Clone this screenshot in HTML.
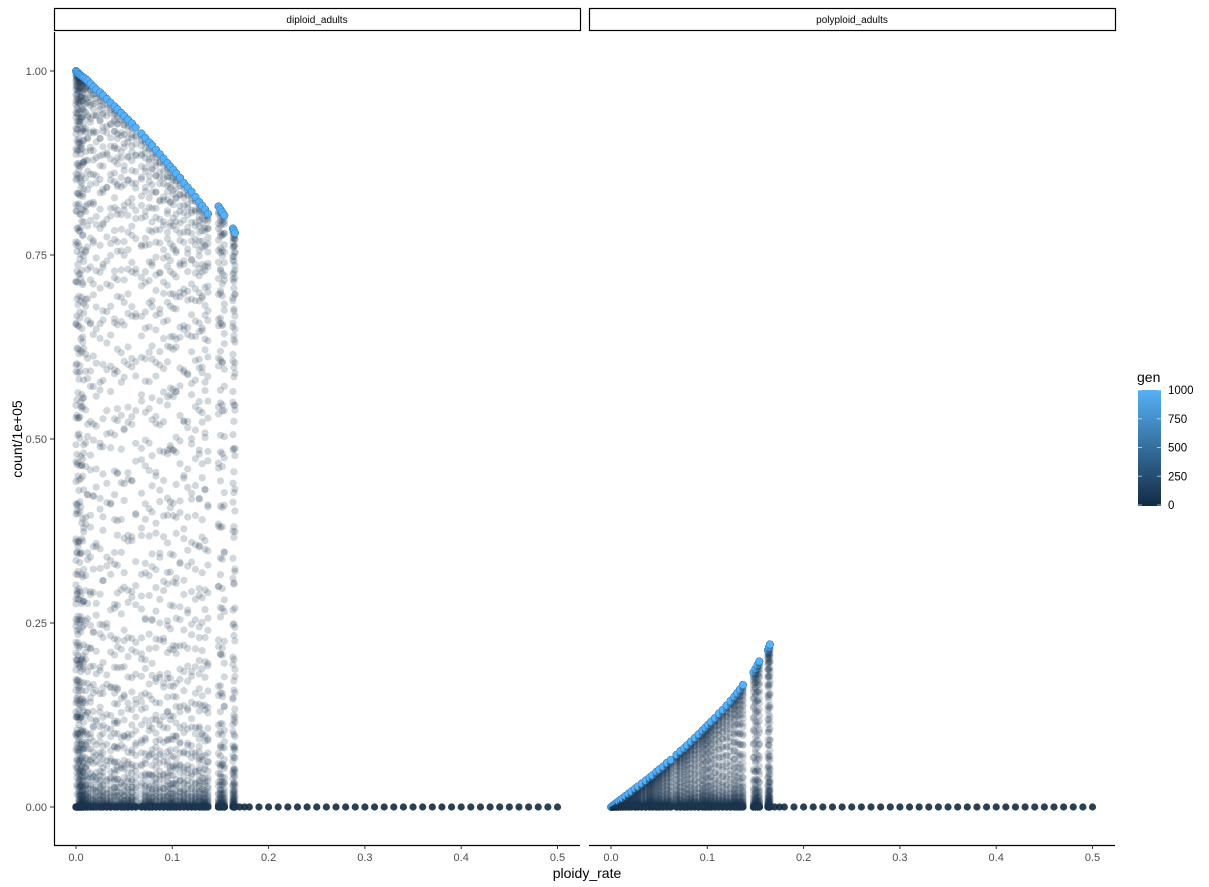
<!DOCTYPE html>
<html><head><meta charset="utf-8"><style>
html,body{margin:0;padding:0;background:#fff;}
svg{display:block;font-family:"Liberation Sans",sans-serif;}
</style></head><body>
<svg id="chart" width="1209" height="887" viewBox="0 0 1209 887">
<defs><linearGradient id="gg" x1="0" y1="1" x2="0" y2="0"><stop offset="0" stop-color="#132B43"/><stop offset="1" stop-color="#56B1F7"/></linearGradient></defs>
<g id="panels"></g>
<g>
<text x="1137" y="382" font-size="14">gen</text>
<rect x="1138" y="390" width="23" height="116" fill="url(#gg)"/>
<g id="legticks"></g>
</g>
<text x="587" y="878" font-size="14" text-anchor="middle">ploidy_rate</text>
<text transform="translate(22,439) rotate(-90)" font-size="14" text-anchor="middle">count/1e+05</text>
</svg>
<script>
// ---- data ----
const panelNames = ["diploid_adults", "polyploid_adults"];
const genSteps = [0,20,40,60,80,100,120,140,160,180,200,220,240,260,280,300,320,340,360,380,400,420,440,460,480,500,520,540,560,580,600,620,640,660,680,700,720,740,760,780,800,820,840,860,880,900,920,940,960,980,1000];
const growthShape = [0,0.003,0.006,0.01,0.015,0.02,0.03,0.04,0.05,0.065,0.08,0.1,0.13,0.17,0.22,0.28,0.35,0.43,0.51,0.59,0.67,0.74,0.8,0.85,0.89,0.92,0.95,0.97,0.985,0.995,1,1,1,1,1,1,1,1,1,1,1,1,1,1,1,1,1,1,1,1,1];
const survivingRates = [0.0,0.001,0.002,0.003,0.004,0.005,0.006,0.007,0.008,0.01,0.012,0.015,0.018,0.021,0.025,0.028,0.032,0.036,0.04,0.043,0.047,0.05,0.054,0.058,0.062,0.068,0.072,0.076,0.079,0.083,0.087,0.091,0.095,0.098,0.101,0.104,0.108,0.112,0.116,0.12,0.124,0.128,0.131,0.134,0.137,0.148,0.15,0.152,0.154,0.163,0.164,0.165];
const diploidFinal = [1.0,0.999,0.998,0.996,0.995,0.994,0.993,0.992,0.991,0.989,0.987,0.983,0.979,0.975,0.971,0.967,0.962,0.957,0.952,0.948,0.943,0.939,0.934,0.929,0.923,0.915,0.909,0.903,0.899,0.893,0.887,0.881,0.875,0.87,0.866,0.861,0.855,0.848,0.842,0.836,0.829,0.822,0.817,0.812,0.806,0.816,0.812,0.808,0.804,0.786,0.783,0.78];
const polyploidFinal = [0.0,0.001,0.002,0.003,0.004,0.005,0.006,0.007,0.008,0.01,0.012,0.015,0.018,0.021,0.025,0.028,0.032,0.036,0.04,0.043,0.048,0.051,0.055,0.06,0.064,0.071,0.076,0.08,0.084,0.089,0.094,0.099,0.104,0.108,0.112,0.116,0.121,0.127,0.132,0.138,0.144,0.15,0.155,0.16,0.166,0.183,0.188,0.193,0.198,0.213,0.217,0.221];
const runDelaysA = [14,15,13,15,12,14,11,13,10,9,7,3,8,1,5,12,2,6,10,4,0,7,11,3,9,1,6,13,2,8,5,10,0,12,4,7,9,3,11,1,6,14,2,8,5,10,3,12,7,1,9,4];
const runDelaysB = [10,12,15,11,14,13,15,12,14,4,11,8,0,6,10,2,9,13,1,7,12,5,3,10,0,8,14,4,11,6,2,9,13,5,1,12,3,8,0,10,7,4,11,13,2,6,9,1,12,5,8,10];
const runCurveA = [0.4,0.6,0.5,0.8,1.3,0.7,1.9,1.1,2.4,0.9,1.6,0.6,2.1,1.2,0.8,1.7,2.6,1.0,0.7,1.4,2.2,0.9,1.8,1.1,2.8,0.6,1.5,2.0,1.2,0.8,2.4,1.3,0.7,1.9,1.1,2.6,0.9,1.6,2.2,1.0,1.4,0.8,2.0,1.2,1.7,2.5,0.9,1.3,2.1,1.1,1.8,0.7];
const runCurveB = [0.5,0.7,0.45,1.2,0.6,2.0,0.9,1.5,0.55,2.3,1.0,1.8,0.8,2.5,1.3,0.9,1.6,2.1,1.2,0.7,1.9,2.7,1.1,1.4,0.8,2.2,1.0,1.7,2.4,1.3,0.9,2.0,1.5,1.1,2.6,0.8,1.8,1.2,0.9,2.3,1.6,1.0,1.4,2.1,0.8,1.9,1.3,2.5,1.0,1.6,0.9,2.2];
const extinctRates = [0.17,0.175,0.18,0.19,0.2,0.21,0.22,0.23,0.24,0.25,0.26,0.27,0.28,0.29,0.3,0.31,0.32,0.33,0.34,0.35,0.36,0.37,0.38,0.39,0.4,0.41,0.42,0.43,0.44,0.45,0.46,0.47,0.48,0.49,0.5];
const yTicks = [0,0.25,0.5,0.75,1];
const yTickLabels = ["0.00","0.25","0.50","0.75","1.00"];
const xTicks = [0,0.1,0.2,0.3,0.4,0.5];
const xTickLabels = ["0.0","0.1","0.2","0.3","0.4","0.5"];
const legendTicks = [0,250,500,750,1000];

// ---- layout ----
const NS = "http://www.w3.org/2000/svg";
const panelsX = [54, 589], panelW = 526, plotTop = 32, plotBottom = 845;
function xScale(p, v){ return panelsX[p] + 22 + v * 963; }
function yScale(v){ return 807 - v * 736; }
function lerp(a,b,t){ return Math.round(a+(b-a)*t); }
function genColor(g){ const t=g/1000; return `rgb(${lerp(19,86,t)},${lerp(43,177,t)},${lerp(67,247,t)})`; }
function mk(tag, attrs, parent){ const e=document.createElementNS(NS,tag); for(const k in attrs) e.setAttribute(k,attrs[k]); parent.appendChild(e); return e; }

const root = document.getElementById("panels");
panelNames.forEach((name, p) => {
  const g = mk("g", {}, root);
  
  
  const strip = mk("rect", {x:panelsX[p]+0.5, y:8.5, width:panelW, height:22, fill:"#fff", stroke:"#000", "stroke-width":1.2}, g);
  
  
  const st = mk("text", {x:panelsX[p]+panelW/2, y:23, "font-size":10, "text-anchor":"middle"}, g);
  st.textContent = name;
  
  
  const pts = mk("g", {}, g);
  
  
  const finals = p === 0 ? diploidFinal : polyploidFinal;
  extinctRates.forEach(r => {
    const c = mk("circle", {cx:xScale(p,r), cy:yScale(0), r:3.6, fill:genColor(0), "fill-opacity":0.9}, pts);
    
    
  });
  [[runDelaysA, runCurveA], [runDelaysB, runCurveB]].forEach(([delays, curves]) => {
    survivingRates.forEach((r, i) => {
      genSteps.forEach((gen, k) => {
        const idx = Math.max(0, k - delays[i]);
        const val = Math.pow(growthShape[idx], curves[i]) * finals[i];
        const late = growthShape[idx] >= 1;
        const c = mk("circle", {cx:xScale(p,r), cy:yScale(val), r:3.6, fill:late ? genColor(gen) : "#1c3550", "fill-opacity": late ? 0.9 : 0.2, stroke: late ? "#3a8ad0" : "none", "stroke-width":0.5}, pts);
        
        
      });
    });
  });
  const ax = mk("line", {x1:panelsX[p], x2:panelsX[p]+panelW, y1:plotBottom+0.5, y2:plotBottom+0.5, stroke:"#000", "stroke-width":1.2}, g);
  
  
  xTicks.forEach((v, j) => {
    const x = xScale(p, v);
    const t = mk("line", {x1:x, x2:x, y1:plotBottom, y2:plotBottom+4, stroke:"#333"}, g);
    
    
    const l = mk("text", {x:x, y:plotBottom+16, "font-size":11, "text-anchor":"middle", fill:"#4d4d4d"}, g);
    l.textContent = xTickLabels[j];
    
    
  });
});
const ya = mk("line", {x1:54.5, x2:54.5, y1:plotTop, y2:plotBottom, stroke:"#000", "stroke-width":1.2}, root);


yTicks.forEach((v, j) => {
  const y = yScale(v);
  const t = mk("line", {x1:50, x2:54, y1:y, y2:y, stroke:"#333"}, root);
  
  
  const l = mk("text", {x:47, y:y+4, "font-size":11, "text-anchor":"end", fill:"#4d4d4d"}, root);
  l.textContent = yTickLabels[j];
  
  
});
const lt = document.getElementById("legticks");
legendTicks.forEach(v => {
  const y = 505 - v/1000 * 115;
  mk("line", {x1:1138, x2:1142, y1:y, y2:y, stroke:"#fff", "stroke-opacity":0.6}, lt);
  mk("line", {x1:1157, x2:1161, y1:y, y2:y, stroke:"#fff", "stroke-opacity":0.6}, lt);
  const l = mk("text", {x:1168, y:y+4, "font-size":11.5}, lt);
  l.textContent = v;
  
  
});
</script>
</body></html>
